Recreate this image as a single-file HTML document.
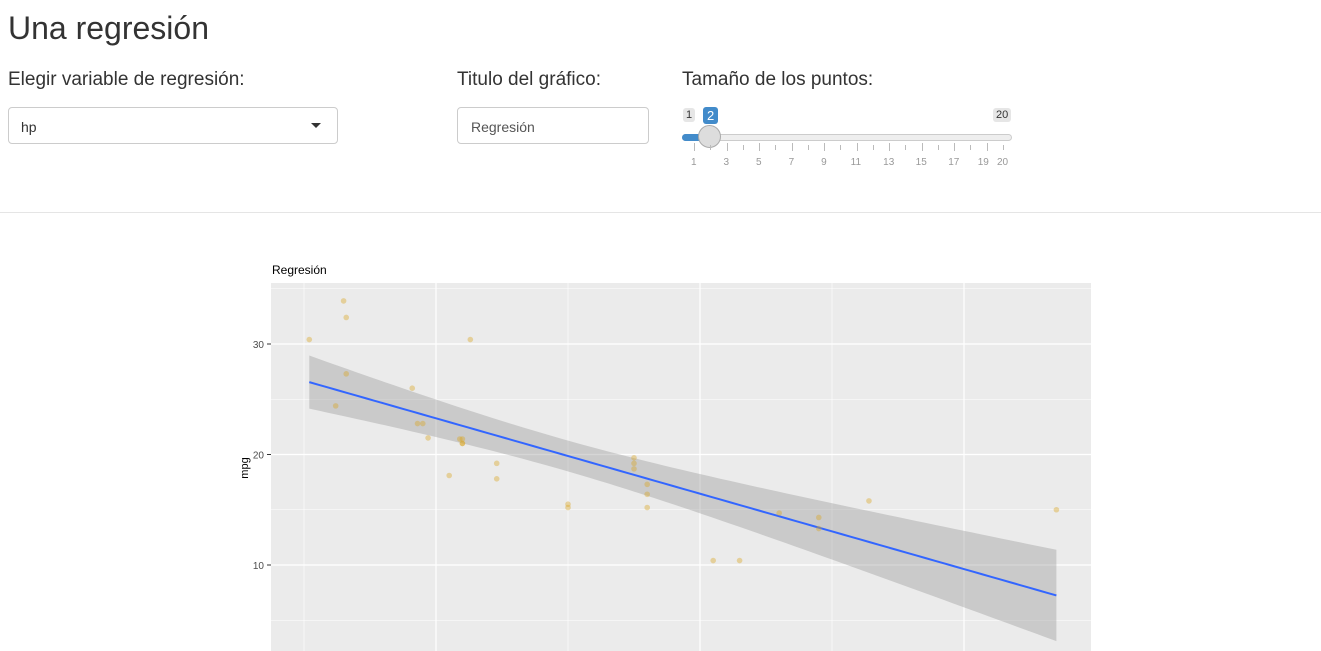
<!DOCTYPE html>
<html><head><meta charset="utf-8"><style>
body{margin:0;width:1321px;height:651px;overflow:hidden;background:#fff;font-family:"Liberation Sans",sans-serif;color:#333;position:relative}
.abs{position:absolute}
h1{position:absolute;left:8px;top:10px;margin:0;font-size:32px;font-weight:normal}
.lbl{font-size:19px}
.inp{border:1px solid #ccc;border-radius:4px;background:#fff;font-size:14px;box-sizing:border-box}
</style></head><body>
<h1>Una regresión</h1>
<div class="abs lbl" style="left:8px;top:69px">Elegir variable de regresión:</div>
<div class="abs inp" style="left:8px;top:107px;width:330px;height:37px;padding:11px 12px">hp<span class="abs" style="right:16px;top:15px;border-left:5px solid transparent;border-right:5px solid transparent;border-top:5px solid #333"></span></div>
<div class="abs lbl" style="left:457px;top:69px">Titulo del gráfico:</div>
<div class="abs inp" style="left:457px;top:107px;width:192px;height:37px;padding:11px 13px;color:#555">Regresión</div>
<div class="abs lbl" style="left:682px;top:69px">Tamaño de los puntos:</div>
<div id="slider" class="abs" style="left:0;top:0;width:1321px;height:200px"></div>
<div class="abs" style="left:0;top:212px;width:1321px;height:1px;background:#e5e5e5"></div>
<svg class="abs" style="left:0;top:0" width="1321" height="651" id="chart"></svg>
<script>
// slider
const s=document.getElementById('slider');
let h='<div style="position:absolute;left:683px;top:108px;background:#e6e6e6;font-size:11px;padding:1px 3px;border-radius:3px">1</div>';
h+='<div style="position:absolute;left:703px;top:107px;background:#428bca;color:#fff;font-size:13px;padding:1px 4px;border-radius:3px">2</div>';
h+='<div style="position:absolute;left:993px;top:108px;background:#e6e6e6;font-size:11px;padding:1px 3px;border-radius:3px">20</div>';
h+='<div style="position:absolute;left:682px;top:134px;width:330px;height:7px;background:#eee;border:1px solid #ccc;border-radius:4px;box-sizing:border-box"></div>';
h+='<div style="position:absolute;left:682px;top:134px;width:28px;height:7px;background:#428bca;border-radius:4px 0 0 4px"></div>';
h+='<div style="position:absolute;left:698px;top:125px;width:23px;height:23px;background:#ddd;border:1px solid #aaa;border-radius:50%;box-sizing:border-box"></div>';
for(let v=1;v<=20;v++){const x=694+(v-1)*(1003-694)/19;
 h+=`<div style="position:absolute;left:${x}px;top:${v%2?143:145}px;width:1px;height:${v%2?8:5}px;background:#bbb"></div>`;
 if(v%2||v==20) h+=`<div style="position:absolute;left:${x-(v>=10?6:3)+(v==19?-3:0)}px;top:157px;font-size:10px;color:#999">${v}</div>`;}
s.innerHTML=h;

const hp=[110,110,93,110,175,105,245,62,95,123,123,180,180,180,205,215,230,66,52,65,97,150,150,245,175,66,91,113,264,175,335,109];
const mpg=[21,21,22.8,21.4,18.7,18.1,14.3,24.4,22.8,19.2,17.8,16.4,17.3,15.2,10.4,10.4,14.7,32.4,30.4,33.9,21.5,15.5,15.2,13.3,19.2,27.3,26,30.4,15.8,19.7,15,21.4];
const yTicks=[10,20,30];
const X=v=>304+(v-50)*2.64, Y=v=>344-(v-30)*11.05;
const svg=document.getElementById('chart'),NS='http://www.w3.org/2000/svg';
function el(t,a,p){const e=document.createElementNS(NS,t);for(const k in a)e.setAttribute(k,a[k]);(p||svg).appendChild(e);return e;}
const bg=el('rect',{x:271,y:283,width:820,height:370,fill:'#ebebeb'});


[5,15,25,35].forEach(v=>el('line',{x1:271,x2:1091,y1:Y(v),y2:Y(v),stroke:'#fff','stroke-width':0.6}));
[50,150,250].forEach(v=>el('line',{x1:X(v),x2:X(v),y1:283,y2:651,stroke:'#fff','stroke-width':0.6}));
[100,200,300].forEach(v=>el('line',{x1:X(v),x2:X(v),y1:283,y2:651,stroke:'#fff','stroke-width':1.2}));
yTicks.forEach(v=>{el('line',{x1:271,x2:1091,y1:Y(v),y2:Y(v),stroke:'#fff','stroke-width':1.2});
 el('line',{x1:267,x2:271,y1:Y(v),y2:Y(v),stroke:'#333'});
 const t=el('text',{x:264,y:Y(v)+4,'text-anchor':'end','font-size':10,fill:'#4d4d4d'});t.textContent=v;
 
 });
// regression
const n=hp.length,mx=hp.reduce((a,b)=>a+b)/n,my=mpg.reduce((a,b)=>a+b)/n;
let sxx=0,sxy=0;hp.forEach((x,i)=>{sxx+=(x-mx)**2;sxy+=(x-mx)*(mpg[i]-my)});
const b=sxy/sxx,a=my-b*mx;let sse=0;hp.forEach((x,i)=>sse+=(mpg[i]-a-b*x)**2);
const se=Math.sqrt(sse/(n-2)),tq=2.042;
const xs=[];const lo=Math.min(...hp),hi=Math.max(...hp);for(let i=0;i<=80;i++)xs.push(lo+(hi-lo)*i/80);
const up=[],dn=[],ln=[];
xs.forEach(x=>{const f=a+b*x,w=tq*se*Math.sqrt(1/n+(x-mx)**2/sxx);up.push(X(x)+','+Y(f+w));dn.unshift(X(x)+','+Y(f-w));ln.push(X(x)+','+Y(f));});
const band=el('polygon',{points:up.concat(dn).join(' '),fill:'#999','fill-opacity':0.4});


const line=el('polyline',{points:ln.join(' '),fill:'none',stroke:'#3366ff','stroke-width':2});


hp.forEach((x,i)=>{const c=el('circle',{cx:X(x),cy:Y(mpg[i]),r:2.8,fill:'#daa520','fill-opacity':0.4});
 
 });
const tt=el('text',{x:272,y:274,'font-size':12,fill:'#000'});tt.textContent='Regresión';


const yl=el('text',{x:0,y:0,'font-size':11,fill:'#000','text-anchor':'middle',transform:'translate(248,468) rotate(-90)'});yl.textContent='mpg';


</script>
</body></html>
